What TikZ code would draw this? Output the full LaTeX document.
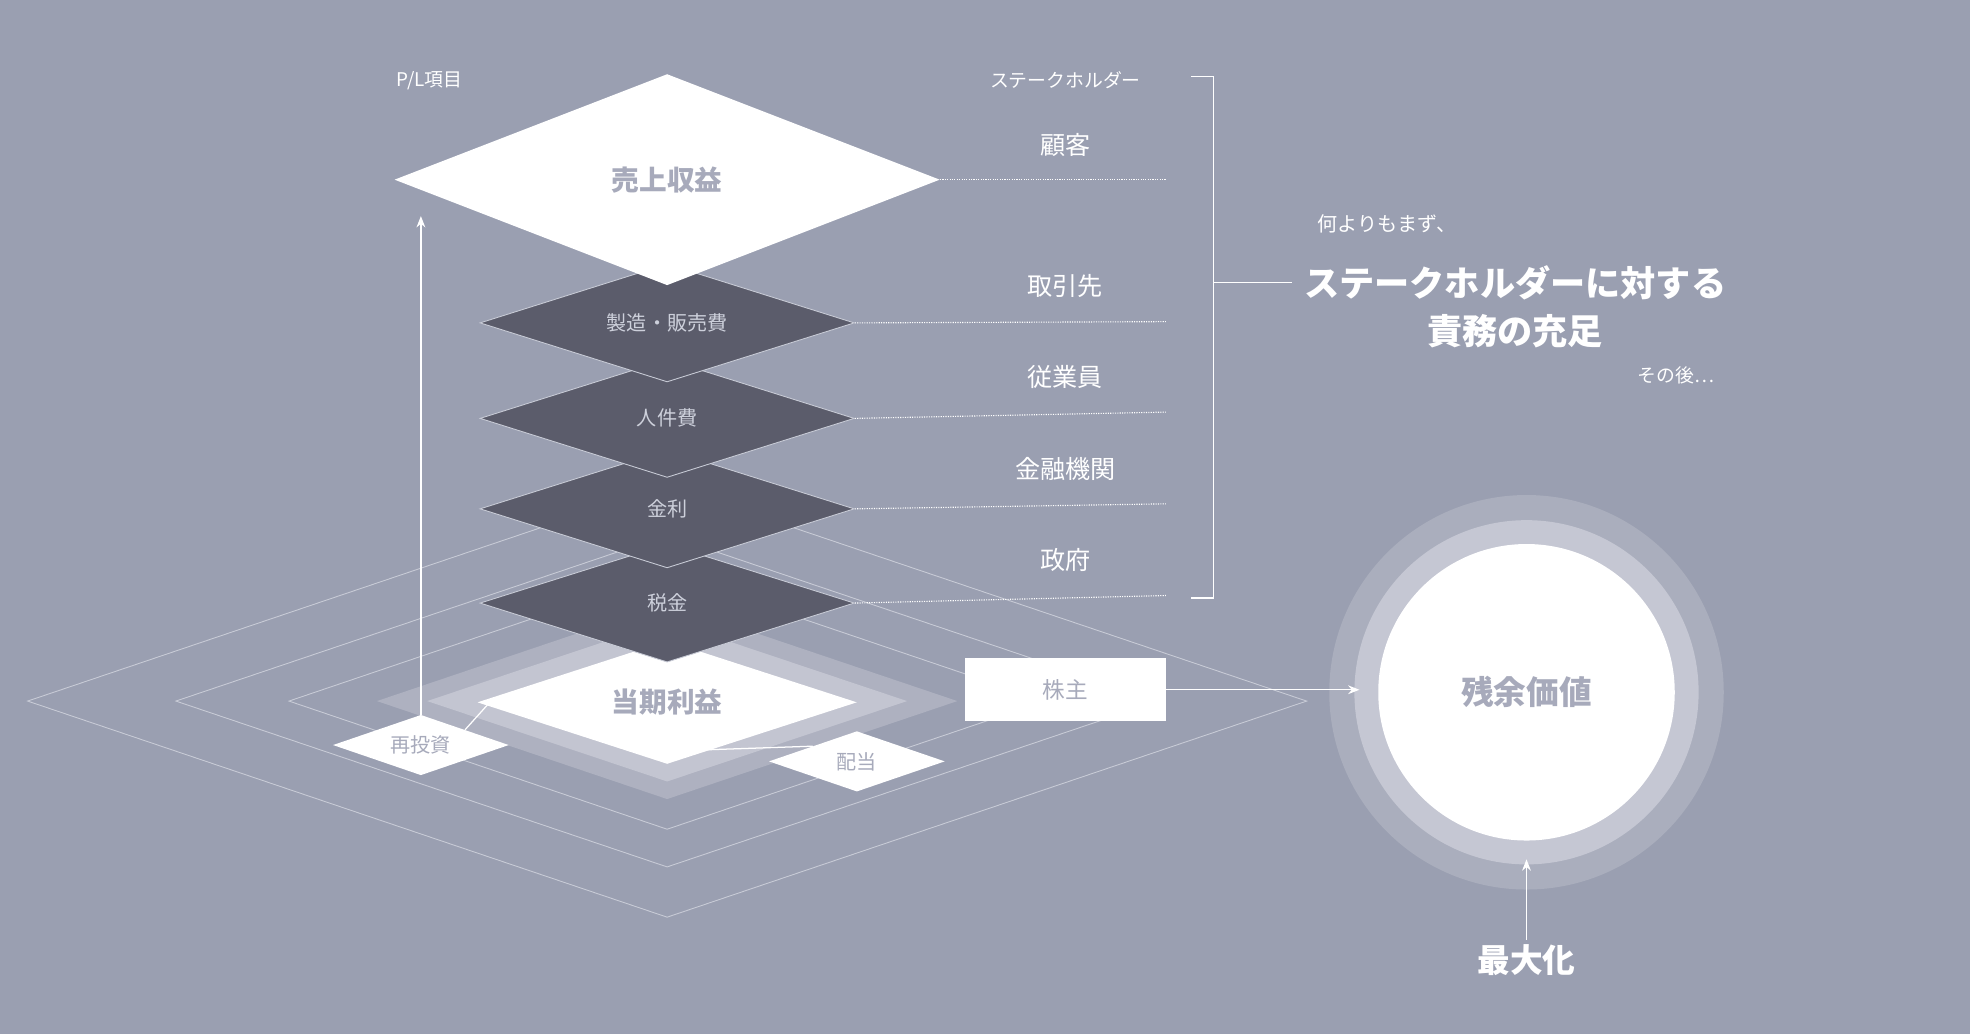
\documentclass[tikz,border=0pt]{standalone}
\usepackage{fontspec}
\setmainfont{Noto Sans CJK JP}
\usetikzlibrary{shapes.geometric,arrows.meta}
\definecolor{bg}{HTML}{9A9FB1}
\definecolor{darkd}{HTML}{5B5C6B}
\definecolor{ringA}{HTML}{AAAEBD}
\definecolor{ringB}{HTML}{C5C7D3}
\definecolor{gtext}{HTML}{A7AABB}
\definecolor{dtext}{HTML}{CDD0DB}
\definecolor{bandA}{HTML}{AEB1C0}
\definecolor{bandB}{HTML}{C3C5D1}
\definecolor{oline}{HTML}{C8CBD6}
\tikzset{
 fs/.style={font=\fontsize{#1}{#1}\selectfont},
 darkdia/.style={diamond,draw=oline,line width=0.7pt,fill=darkd,inner sep=0,minimum width=298pt,minimum height=94pt,shape aspect=3.2,text=dtext,fs=16},
 smalldia/.style={diamond,fill=white,inner sep=0,minimum width=140pt,minimum height=48pt,shape aspect=3,text=gtext,fs=16},
 dotl/.style={white,densely dotted,line width=0.9pt},
 wtext/.style={text=white,fs=20},
 outl/.style={oline,line width=0.7pt},
 arr/.style={white,line width=1pt,-{Stealth[length=9pt,width=7pt]}},
}
\begin{document}
\begin{tikzpicture}[x=1pt,y=-1pt]
\fill[bg] (0,0) rectangle (1568,823);
\useasboundingbox (0,0) rectangle (1568,823);
% base layers
\draw[outl] (22,558)--(531,386)--(1040,558)--(531,730)--cycle;
\draw[outl] (140,558)--(531,426)--(922,558)--(531,690)--cycle;
\draw[outl] (230,558)--(531,456)--(832,558)--(531,660)--cycle;
\fill[bandA] (300,558)--(531,480)--(762,558)--(531,636)--cycle;
\fill[bandB] (340,558)--(531,494)--(722,558)--(531,622)--cycle;
\node[diamond,fill=white,inner sep=0,minimum width=302pt,minimum height=98pt,shape aspect=3.1,text=gtext,fs=22] (profit) at (531,559) {\textbf{当期利益}};
% small diamonds
\node[smalldia] (reinv) at (335,593) {再投資};
\node[smalldia] (div) at (682,606) {配当};
\draw[white,line width=1pt] (reinv.north east) -- ([xshift=10pt]profit.west);
\draw[white,line width=1pt] (div.north west) -- ([xshift=-10pt,yshift=10pt]profit.south);
% dark diamonds
\node[darkdia] (tax) at (531,480) {税金};
\node[darkdia] (int) at (531,405) {金利};
\node[darkdia] (lab) at (531,333) {人件費};
\node[darkdia] (mfg) at (531,257) {製造・販売費};
\node[diamond,fill=white,inner sep=0,minimum width=434pt,minimum height=168pt,shape aspect=2.6,text=gtext,fs=22] (rev) at (531,143) {\textbf{売上収益}};
% up arrow
\coordinate (upend) at (335,172);
\draw[arr] (reinv.north) -- (upend);
% dotted lines & labels
\foreach \n/\y in {rev/143,mfg/256,lab/328,int/401,tax/474}{
  \coordinate (e\n) at (928,\y);
}
\draw[dotl] (rev.east) -- (erev);
\draw[dotl] (mfg.east) -- (emfg);
\draw[dotl] (lab.east) -- (elab);
\draw[dotl] (int.east) -- (eint);
\draw[dotl] (tax.east) -- (etax);
\node[wtext] (s1) at (848,115) {顧客};
\node[wtext] (s2) at (848,228) {取引先};
\node[wtext] (s3) at (848,300) {従業員};
\node[wtext] (s4) at (848,373) {金融機関};
\node[wtext] (s5) at (848,446) {政府};
\node[text=white,fs=15] (sh) at (848,64) {ステークホルダー};
\node[text=white,fs=15] (pl) at (342,64) {P/L項目};
% shareholder box
\node[fill=white,minimum width=160pt,minimum height=50pt,inner sep=0,text=gtext,fs=18] (kabu) at (848,549) {株主};
% bracket
\draw[white,line width=1pt] (948,61) -- (966,61) -- (966,476) -- (948,476);
\coordinate (bm) at (966,225);
\coordinate (bt) at (1028,225);
\draw[white,line width=1pt] (bm) -- (bt);
\node[text=white,fs=16,anchor=west] (t1) at (1045,178) {何よりもまず、};
\node[text=white,fs=28,align=center] (t2) at (1206,244) {\textbf{ステークホルダーに対する}\\[10pt]\textbf{責務の充足}};
\node[text=white,fs=15,anchor=east] (t3) at (1368,299) {その後…};
% circle
\fill[ringA] (1215,551) circle (157);
\fill[ringB] (1215,551) circle (137);
\node[circle,fill=white,minimum size=236pt,inner sep=0,text=gtext,fs=26] (res) at (1215,551) {\textbf{残余価値}};
\draw[arr] (kabu.east) -- (1082,549);
\node[text=white,fs=26] (max) at (1215,764) {\textbf{最大化}};
\draw[arr] (max.north) -- (1215,684);
\end{tikzpicture}
\end{document}
